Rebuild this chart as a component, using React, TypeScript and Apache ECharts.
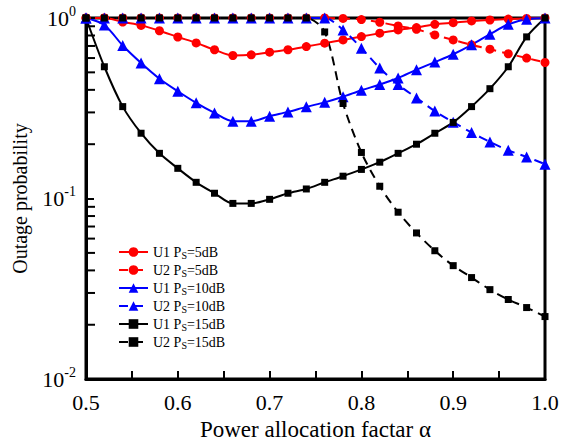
import React, { useEffect, useRef } from "react";
import * as echarts from "echarts";

const alpha = [0.5, 0.52, 0.54, 0.56, 0.58, 0.6, 0.62, 0.64, 0.66, 0.68, 0.7, 0.72, 0.74, 0.76, 0.78, 0.8, 0.82, 0.84, 0.86, 0.88, 0.9, 0.92, 0.94, 0.96, 0.98, 1.0];

const u1_5dB = [1.0, 1.0, 0.95, 0.91, 0.85, 0.785, 0.728, 0.667, 0.62, 0.625, 0.647, 0.667, 0.695, 0.725, 0.756, 0.789, 0.824, 0.859, 0.885, 0.923, 0.942, 0.963, 0.975, 0.987, 0.995, 1.0];
const u2_5dB = [1.0, 1.0, 1.0, 1.0, 1.0, 1.0, 1.0, 1.0, 1.0, 1.0, 1.0, 1.0, 1.0, 1.0, 0.995, 0.98, 0.947, 0.903, 0.866, 0.806, 0.756, 0.71, 0.672, 0.634, 0.6, 0.567];
const u1_10dB = [1.0, 0.915, 0.704, 0.563, 0.461, 0.393, 0.339, 0.298, 0.268, 0.268, 0.286, 0.302, 0.322, 0.341, 0.366, 0.398, 0.428, 0.465, 0.517, 0.57, 0.63, 0.71, 0.813, 0.923, 0.983, 1.0];
const u2_10dB = [1.0, 1.0, 1.0, 1.0, 1.0, 1.0, 1.0, 1.0, 1.0, 1.0, 1.0, 1.0, 1.0, 1.0, 0.859, 0.681, 0.528, 0.428, 0.361, 0.305, 0.265, 0.232, 0.206, 0.185, 0.17, 0.155];
const u1_15dB = [1.0, 0.537, 0.323, 0.23, 0.178, 0.147, 0.123, 0.107, 0.094, 0.094, 0.099, 0.107, 0.113, 0.123, 0.133, 0.145, 0.159, 0.178, 0.2, 0.23, 0.264, 0.323, 0.406, 0.537, 0.786, 1.0];
const u2_15dB = [1.0, 1.0, 1.0, 1.0, 1.0, 1.0, 1.0, 1.0, 1.0, 1.0, 1.0, 1.0, 1.0, 0.837, 0.336, 0.18, 0.117, 0.084, 0.0645, 0.0514, 0.0425, 0.0365, 0.0313, 0.0276, 0.0249, 0.0222];

const seriesNames = ["U1 5dB", "U2 5dB", "U1 10dB", "U2 10dB", "U1 15dB", "U2 15dB"];
const legendUser = ["U1", "U2", "U1", "U2", "U1", "U2"];
const legendPower = ["5dB", "5dB", "10dB", "10dB", "15dB", "15dB"];

const yMinorTicks = [0.02, 0.03, 0.04, 0.05, 0.06, 0.07, 0.08, 0.09, 0.2, 0.3, 0.4, 0.5, 0.6, 0.7, 0.8, 0.9];

const X_MIN = 0.5;
const X_MAX = 1.0;
const FONT = "'Liberation Serif', 'Times New Roman', serif";

export default function App() {
  const ref = useRef<HTMLDivElement>(null);
  useEffect(() => {
    document.body.style.margin = "0";
    if (!ref.current) return;
    const chart = echarts.init(ref.current, undefined, { renderer: "svg" });
    const pair = (ys: number[]) => alpha.map((a, i) => [a, ys[i]]);
    const mk = (name: string, ys: number[], color: string, symbol: string, size: number, dashed: boolean) => ({
      name,
      type: "line",
      data: pair(ys),
      smooth: 0.3,
      symbol,
      symbolSize: size,
      showAllSymbol: true,
      lineStyle: { color, width: 2, type: dashed ? [9, 6] : "solid" },
      itemStyle: { color },
      z: 3,
    });
    const option: any = {
      animation: false,
      textStyle: { fontFamily: FONT },
      grid: { left: 86, right: 25, top: 18, bottom: 65, show: true, borderColor: "#000", borderWidth: 3 },
      xAxis: {
        type: "value",
        min: X_MIN,
        max: X_MAX,
        interval: 0.05,
        name: "Power allocation factar α",
        nameLocation: "middle",
        nameGap: 38,
        nameTextStyle: { fontSize: 23, color: "#000", fontFamily: FONT },
        axisLine: { lineStyle: { color: "#000", width: 3 } },
        axisTick: { inside: true, length: 8, lineStyle: { color: "#000", width: 2 } },
        axisLabel: {
          fontSize: 22,
          color: "#000",
          fontFamily: FONT,
          margin: 12,
          formatter: (v: number) => (Math.round(v * 100) % 10 === 0 ? v.toFixed(1) : ""),
        },
        splitLine: { show: false },
      },
      yAxis: {
        type: "log",
        logBase: 10,
        min: 0.01,
        max: 1,
        name: "Outage probability",
        nameLocation: "middle",
        nameGap: 56,
        nameTextStyle: { fontSize: 20, color: "#000", fontFamily: FONT },
        axisLine: { lineStyle: { color: "#000", width: 3 } },
        axisTick: { inside: true, length: 8, lineStyle: { color: "#000", width: 2 } },
        axisLabel: {
          color: "#000",
          fontFamily: FONT,
          margin: 10,
          formatter: (v: number) => "{b|10}{s|" + Math.round(Math.log10(v)) + "}",
          rich: {
            b: { fontSize: 22, fontFamily: FONT, color: "#000" },
            s: { fontSize: 14, fontFamily: FONT, color: "#000", verticalAlign: "top", padding: [0, 0, 14, 0] },
          },
        },
        splitLine: { show: false },
      },
      legend: {
        left: 113,
        top: 239,
        orient: "vertical",
        itemWidth: 29,
        itemHeight: 12,
        itemGap: 2,
        data: seriesNames,
        formatter: (name: string) => {
          const i = seriesNames.indexOf(name);
          return "{a|" + legendUser[i] + " P}{s|S}{a|=" + legendPower[i] + "}";
        },
        textStyle: {
          fontFamily: FONT,
          color: "#000",
          rich: {
            a: { fontSize: 14, lineHeight: 16, fontFamily: FONT, color: "#000" },
            s: { fontSize: 10, lineHeight: 16, fontFamily: FONT, color: "#000", verticalAlign: "bottom", padding: [6, 0, 0, 0] },
          },
        },
      },
      series: [
        mk(seriesNames[0], u1_5dB, "#ff0000", "circle", 9, false),
        mk(seriesNames[1], u2_5dB, "#ff0000", "circle", 9, true),
        mk(seriesNames[2], u1_10dB, "#0000ff", "triangle", 11, false),
        mk(seriesNames[3], u2_10dB, "#0000ff", "triangle", 11, true),
        mk(seriesNames[4], u1_15dB, "#000000", "rect", 7, false),
        mk(seriesNames[5], u2_15dB, "#000000", "rect", 7, true),
        {
          name: "minorTicks",
          type: "custom",
          silent: true,
          data: yMinorTicks.map((v) => [X_MIN, v]),
          renderItem: (params: any, api: any) => {
            const p = api.coord([api.value(0), api.value(1)]);
            return {
              type: "line",
              shape: { x1: p[0], y1: p[1], x2: p[0] + 9, y2: p[1] },
              style: { stroke: "#000", lineWidth: 2 },
            };
          },
          z: 5,
        },
      ],
    };
    chart.setOption(option);
    return () => chart.dispose();
  }, []);
  return <div ref={ref} style={{ width: 570, height: 446 }} />;
}
